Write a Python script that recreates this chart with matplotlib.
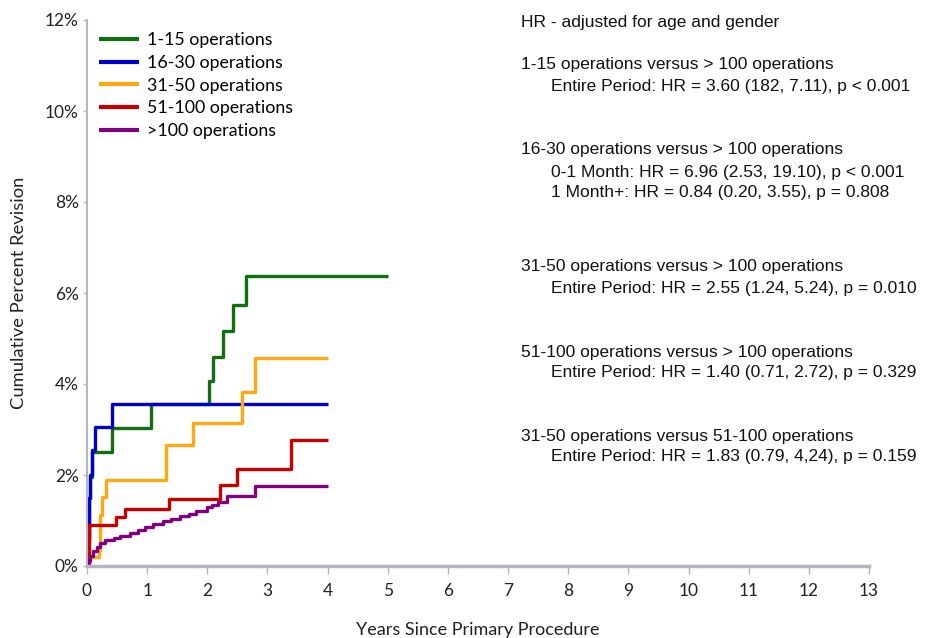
import matplotlib
matplotlib.use("Agg")
import matplotlib.pyplot as plt

# === Données (années, % cumulé)
labels = ["1-15 operations", "16-30 operations", "31-50 operations",
          "51-100 operations", ">100 operations"]
couleurs = ["#107010", "#0000cc", "#ffa812", "#c80000", "#800080"]

x_1_15 = [0, 0.01, 0.03, 0.05, 0.09, 0.42, 1.06, 2.03, 2.10, 2.26, 2.42, 2.64, 5.0]
y_1_15 = [0, 0.5, 1.5, 1.96, 2.51, 3.03, 3.55, 4.07, 4.6, 5.16, 5.73, 6.38, 6.38]

x_16_30 = [0, 0.01, 0.03, 0.05, 0.08, 0.13, 0.41, 4.0]
y_16_30 = [0, 0.6, 1.5, 2.0, 2.55, 3.05, 3.57, 3.57]

x_31_50 = [0, 0.02, 0.2, 0.22, 0.25, 0.32, 1.32, 1.77, 2.58, 2.79, 4.0]
y_31_50 = [0, 0.2, 0.35, 1.12, 1.52, 1.89, 2.66, 3.15, 3.83, 4.58, 4.58]

x_51_100 = [0, 0.04, 0.48, 0.63, 1.36, 2.21, 2.49, 3.39, 4.0]
y_51_100 = [0, 0.9, 1.08, 1.25, 1.47, 1.77, 2.13, 2.77, 2.77]

x_100 = [0, 0.02, 0.05, 0.1, 0.16, 0.22, 0.3, 0.45, 0.55, 0.71, 0.85, 0.96,
         1.1, 1.27, 1.4, 1.55, 1.7, 1.82, 1.99, 2.08, 2.18, 2.32, 2.79, 4.0]
y_100 = [0, 0.1, 0.22, 0.32, 0.42, 0.5, 0.57, 0.62, 0.66, 0.72, 0.79, 0.86,
         0.92, 0.98, 1.03, 1.09, 1.14, 1.2, 1.3, 1.33, 1.4, 1.54, 1.75, 1.75]

series = [(x_1_15, y_1_15), (x_16_30, y_16_30), (x_31_50, y_31_50),
          (x_51_100, y_51_100), (x_100, y_100)]

x_ticks = list(range(0, 14))
y_ticks = [0, 2, 4, 6, 8, 10, 12]

hr_lines = [
    ("HR - adjusted for age and gender", 0),
    ("1-15 operations versus > 100 operations", 0),
    ("Entire Period: HR = 3.60 (182, 7.11), p < 0.001", 1),
    ("16-30 operations versus > 100 operations", 0),
    ("0-1 Month: HR = 6.96 (2.53, 19.10), p < 0.001", 1),
    ("1 Month+: HR = 0.84 (0.20, 3.55), p = 0.808", 1),
    ("31-50 operations versus > 100 operations", 0),
    ("Entire Period: HR = 2.55 (1.24, 5.24), p = 0.010", 1),
    ("51-100 operations versus > 100 operations", 0),
    ("Entire Period: HR = 1.40 (0.71, 2.72), p = 0.329", 1),
    ("31-50 operations versus 51-100 operations", 0),
    ("Entire Period: HR = 1.83 (0.79, 4,24), p = 0.159", 1),
]
hr_y_px = [23, 65, 86, 149, 172, 193, 267, 288, 352, 373, 436, 457]

W, H = 932, 638
fig = plt.figure(figsize=(W / 100, H / 100), dpi=100)
ax = fig.add_axes([87 / W, 1 - 566 / H, (869 - 87) / W, (566 - 20) / H])

for (xs, ys), lab, c in zip(series, labels, couleurs):
    ax.step(xs, ys, where="post", color=c, lw=2.4, label=lab, solid_capstyle="butt")

ax.set_xlim(0, 13)
ax.set_ylim(0, 12)
ax.set_xticks(x_ticks)
ax.set_yticks(y_ticks)
ax.set_yticklabels([f"{v}%" for v in y_ticks])

gris = "#b4b4c4"
for s in ["top", "right"]:
    ax.spines[s].set_visible(False)
ax.spines["left"].set_color(gris)
ax.spines["left"].set_linewidth(1.5)
ax.spines["bottom"].set_color(gris)
ax.spines["bottom"].set_linewidth(2.5)
ax.tick_params(axis="both", colors=gris, labelcolor="#222222", labelsize=12.5, width=1)
ax.tick_params(axis="x", length=6, pad=6)
ax.tick_params(axis="y", length=3, pad=3)
for t in ax.get_xticklabels() + ax.get_yticklabels():
    t.set_family("Lato")

ax.set_xlabel("Years Since Primary Procedure", fontsize=13, family="Lato",
              labelpad=17, color="#222222")
ax.set_ylabel("Cumulative Percent Revision", fontsize=13.2, family="Lato",
              color="#222222")
# bord droit du titre vertical vers x = 27 px
ax.yaxis.set_label_coords((27 - 87) / (869 - 87), 0.5)

leg = ax.legend(loc="upper left", bbox_to_anchor=(0.0, 1.0), frameon=False,
                prop={"family": "Lato", "size": 12.8}, handlelength=2.25,
                handletextpad=0.4, labelspacing=0.37, borderaxespad=0.3)
for h in leg.get_lines():
    h.set_linewidth(3)

for (txt, indent), ypx in zip(hr_lines, hr_y_px):
    xpx = 551 if indent else 521
    fig.text(xpx / W, 1 - ypx / H, txt, family="Liberation Sans", fontsize=12.5,
             va="center", ha="left", color="#111111")

fig.savefig("out.png", dpi=100)
